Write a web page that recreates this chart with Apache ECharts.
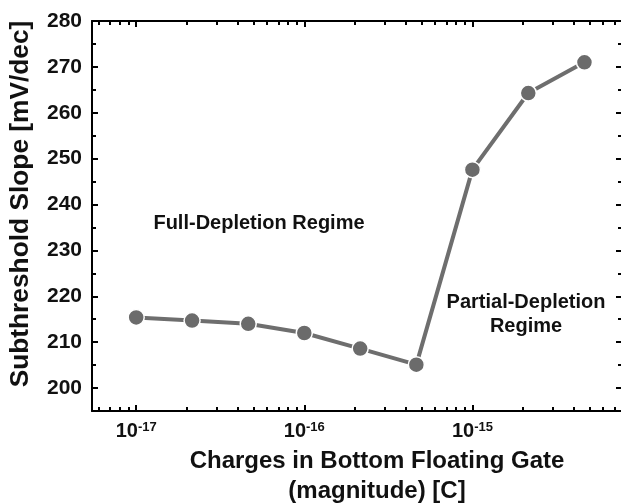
<!DOCTYPE html>
<html>
<head>
<meta charset="utf-8">
<script src="https://cdn.jsdelivr.net/npm/echarts@6/dist/echarts.min.js"></script>
<style>html,body{margin:0;padding:0;background:#fff}#c{width:621px;height:504px}</style>
</head>
<body>
<div id="c"></div>
<script>
// ---- data ----
const charges = [1e-17, 2.15e-17, 4.64e-17, 1e-16, 2.15e-16, 4.64e-16, 1e-15, 2.15e-15, 4.64e-15];
const slopes = [215.4, 214.7, 214.0, 212.0, 208.6, 205.1, 247.6, 264.3, 271.0];
const boundaryCharge = 4.64e-16;
const xMajorTicks = [1e-17, 1e-16, 1e-15];
const xMinorTicks = [6e-18, 7e-18, 8e-18, 9e-18,
  2e-17, 3e-17, 4e-17, 5e-17, 6e-17, 7e-17, 8e-17, 9e-17,
  2e-16, 3e-16, 4e-16, 5e-16, 6e-16, 7e-16, 8e-16, 9e-16,
  2e-15, 3e-15, 4e-15, 5e-15, 6e-15, 7e-15];
const yMajorTicks = [200, 210, 220, 230, 240, 250, 260, 270, 280];
const yMinorTicks = [205, 215, 225, 235, 245, 255, 265, 275];
const xMin = 5.46e-18, xMax = 7.76e-15;
const yMin = 195, yMax = 280;
const xTitle = 'Charges in Bottom Floating Gate\n(magnitude) [C]';
const yTitle = 'Subthreshold Slope [mV/dec]';
const fullLabel = 'Full-Depletion Regime';
const partialLabel = 'Partial-Depletion\nRegime';

const FONT = '"Liberation Sans", Arial, sans-serif';
const chart = echarts.init(document.getElementById('c'), null, {renderer: 'canvas'});

function xAxisDef(pos, ticks, len, showLabel, showLine, name) {
  return {
    type: 'log', position: pos, min: xMin, max: xMax, logBase: 10,
    axisLine: {show: showLine, onZero: false, lineStyle: {color: '#000', width: 2}},
    axisTick: {show: true, inside: true, length: len, customValues: ticks, lineStyle: {color: '#000', width: 2}},
    axisLabel: showLabel ? {
      show: true, customValues: ticks, margin: 10,
      formatter: v => '{b|10}{s|' + Math.round(Math.log10(v)) + '}',
      rich: {
        b: {fontSize: 20, fontWeight: 'bold', fontFamily: FONT, color: '#111'},
        s: {fontSize: 13, fontWeight: 'bold', fontFamily: FONT, color: '#111', verticalAlign: 'top', padding: [0, 0, 8, 0]}
      }
    } : {show: false},
    splitLine: {show: false},
    name: name || '', nameLocation: 'middle', nameGap: 30,
    nameTextStyle: {fontSize: 24, fontWeight: 'bold', fontFamily: FONT, color: '#111', lineHeight: 30, padding: [0, 0, 0, 40]}
  };
}
function yAxisDef(pos, ticks, len, showLabel, showLine, name) {
  return {
    type: 'value', position: pos, min: yMin, max: yMax,
    axisLine: {show: showLine, onZero: false, lineStyle: {color: '#000', width: 2}},
    axisTick: {show: true, inside: true, length: len, customValues: ticks, lineStyle: {color: '#000', width: 2}},
    axisLabel: showLabel ? {show: true, customValues: ticks, margin: 10, fontSize: 21, fontWeight: 'bold', fontFamily: FONT, color: '#111'} : {show: false},
    splitLine: {show: false},
    name: name || '', nameLocation: 'middle', nameGap: 58,
    nameTextStyle: {fontSize: 26.3, fontWeight: 'bold', fontFamily: FONT, color: '#111', padding: [0, 0, 0, 24]}
  };
}

chart.setOption({
  backgroundColor: '#fff',
  animation: false,
  grid: {left: 92, right: -1, top: 21, bottom: 93, containLabel: false, outerBoundsMode: 'none'},
  xAxis: [
    xAxisDef('bottom', xMajorTicks, 6, true, true, xTitle),
    xAxisDef('bottom', xMinorTicks, 4, false, false),
    xAxisDef('top', xMajorTicks, 6, false, true),
    xAxisDef('top', xMinorTicks, 4, false, false)
  ],
  yAxis: [
    yAxisDef('left', yMajorTicks, 6, true, true, yTitle),
    yAxisDef('left', yMinorTicks, 4, false, false),
    yAxisDef('right', yMajorTicks, 6, false, true),
    yAxisDef('right', yMinorTicks, 4, false, false)
  ],
  series: [{
    type: 'line',
    xAxisIndex: 0, yAxisIndex: 0,
    data: charges.map((c, i) => [c, slopes[i]]),
    symbol: 'circle', symbolSize: 16,
    lineStyle: {color: '#6e6e6e', width: 4},
    itemStyle: {color: '#6b6b6b', borderColor: '#ffffff', borderWidth: 1.5},
    markLine: {
      silent: true, symbol: 'none', label: {show: false},
      lineStyle: {color: '#bdbdbd', type: [5, 4], width: 1.5},
      data: [{xAxis: boundaryCharge}]
    },
    z: 3
  }],
  graphic: [
    {type: 'text', x: 259, y: 223, style: {text: fullLabel, align: 'center', verticalAlign: 'middle', fontSize: 20, fontWeight: 'bold', fontFamily: FONT, fill: '#111'}},
    {type: 'text', x: 526, y: 314, style: {text: partialLabel, align: 'center', verticalAlign: 'middle', fontSize: 20, fontWeight: 'bold', fontFamily: FONT, fill: '#111', lineHeight: 24}}
  ]
});
</script>
</body>
</html>
